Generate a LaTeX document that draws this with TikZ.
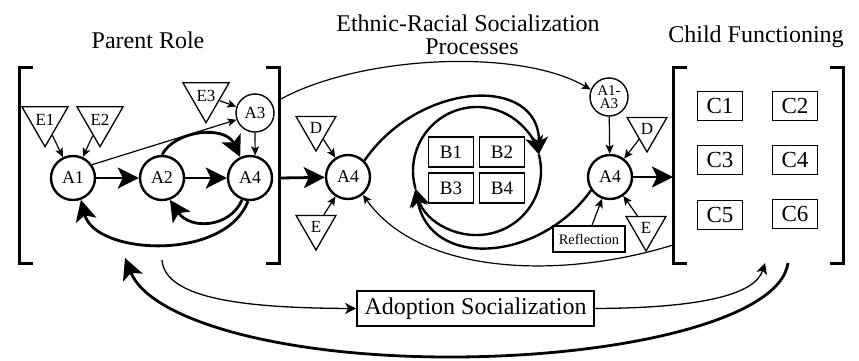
\documentclass[tikz,border=0pt]{standalone}
\usepackage{fontspec}
\setmainfont{Liberation Serif}
\usetikzlibrary{arrows.meta,shapes.geometric}
\begin{document}
\begin{tikzpicture}[x=1pt,y=-1pt,
  bigcirc/.style={circle, draw, line width=2.4pt, minimum size=44pt, inner sep=0pt, font=\fontsize{18}{18}\selectfont},
  smallcirc/.style={circle, draw, line width=1.4pt, minimum size=38pt, inner sep=0pt, font=\fontsize{17}{17}\selectfont},
  tri/.style={regular polygon, regular polygon sides=3, shape border rotate=180, draw, line width=1.3pt, minimum size=46pt, inner sep=0pt, font=\fontsize{17}{17}\selectfont},
  bbox/.style={draw, line width=1.8pt, minimum width=45pt, minimum height=30pt, inner sep=0pt, font=\fontsize{19}{19}\selectfont},
  cbox/.style={draw, line width=1.8pt, minimum width=45pt, minimum height=29pt, inner sep=0pt, font=\fontsize{23}{23}\selectfont},
  thinarr/.style={line width=1.2pt, -{Stealth[length=9pt,width=8pt,inset=2pt]}},
  medarr/.style={line width=1.3pt, -{Stealth[length=11pt,width=11pt,inset=3pt]}},
  bigarr/.style={line width=2.8pt, -{Stealth[length=21pt,width=21pt,inset=5pt]}},
  cycarr/.style={line width=2.4pt, -{Stealth[length=18pt,width=18pt,inset=5pt]}},
  bracket/.style={line width=3pt},
  title/.style={font=\fontsize{24}{21}\selectfont, anchor=base, inner sep=0pt}
]
\useasboundingbox (0,0) rectangle (859,360);

% titles
\node[title] (tPR) at (148,48) {Parent Role};
\node[title] (tER1) at (468,31) {Ethnic-Racial Socialization};
\node[title] (tER2) at (472,54) {Processes};
\node[title] (tCF) at (756,42) {Child Functioning};

% brackets
\draw[bracket] (33,67) -- (19,67) -- (19,263) -- (33,263);
\draw[bracket] (266,67) -- (279,67) -- (279,263) -- (266,263);
\draw[bracket] (687,67) -- (673,67) -- (673,263) -- (687,263);
\draw[bracket] (830,67) -- (843,67) -- (843,263) -- (830,263);

% parent role nodes
\node[bigcirc] (A1) at (73,178) {A1};
\node[bigcirc] (A2) at (162,178) {A2};
\node[bigcirc] (A4L) at (250,178) {A4};
\node[smallcirc] (A3) at (255,113) {A3};
\node[tri] (E1) at (45,120) {E1};
\node[tri] (E2) at (100,120) {E2};
\node[tri] (E3) at (206,96) {E3};

% middle nodes
\node[bigcirc] (A4M) at (348,177) {A4};
\node[tri] (D1) at (316,128) {D};
\node[tri] (E4) at (316,227) {E};
\node[bbox] (B1) at (451,152) {B1};
\node[bbox] (B2) at (502,152) {B2};
\node[bbox] (B3) at (451,188) {B3};
\node[bbox] (B4) at (502,188) {B4};

% right side of middle
\node[smallcirc, font=\fontsize{15}{13.5}\selectfont, align=center] (A13) at (609,97) {A1-\\A3};
\node[bigcirc] (A4R) at (610,177) {A4};
\node[tri] (D2) at (647,129) {D};
\node[tri] (E5) at (646,228) {E};
\node[draw, line width=1.3pt, minimum width=72pt, minimum height=26pt, inner sep=1pt, font=\fontsize{14.5}{14.5}\selectfont] (Refl) at (589,239) {Reflection};

% child functioning
\node[cbox] (C1) at (720,106) {C1};
\node[cbox] (C2) at (795,106) {C2};
\node[cbox] (C3) at (720,160) {C3};
\node[cbox] (C4) at (795,160) {C4};
\node[cbox] (C5) at (720,215) {C5};
\node[cbox] (C6) at (795,214) {C6};

% adoption
\node[draw, line width=1.8pt, minimum width=237pt, minimum height=35pt, inner sep=0pt, font=\fontsize{24}{24}\selectfont] (Adopt) at (475.5,308.5) {Adoption Socialization};

% coordinates
\coordinate (lbR) at (279,178);
\coordinate (lbTop) at (279,100);
\coordinate (rbL) at (673,177);
\coordinate (rbLow) at (673,245);
\coordinate (cR) at (538.8,154.4);
\coordinate (cL) at (415.5,188.6);
\coordinate (adL) at (162,260);
\coordinate (adR) at (765,263);
\coordinate (bigR) at (788,263);
\coordinate (bigL) at (125,258);

% thin arrows
\draw[thinarr] (E1) -- (A1);
\draw[thinarr] (E2) -- (A1);
\draw[thinarr] (E3) -- (A3);
\draw[thinarr] (A1.35) -- (A3.200);
\draw[thinarr] (A3.south) -- (A4L.77);
\draw[thinarr] (D1) -- (A4M);
\draw[thinarr] (E4) -- (A4M);
\draw[thinarr] (A13) -- (A4R);
\draw[thinarr] (D2) -- (A4R);
\draw[thinarr] (E5) -- (A4R);
\draw[thinarr] ([xshift=3pt]Refl.north) -- (A4R.250);
\draw[thinarr] (lbTop) .. controls (360,55) and (520,48) .. (A13.158);
\draw[thinarr] (rbLow) .. controls (560,280) and (420,275) .. (A4M.310);

% thick arrows
\draw[bigarr] (A1) -- (A2);
\draw[bigarr] (A2) -- (A4L);
\draw[bigarr] (lbR) -- (A4M);
\draw[bigarr] (A4R) -- (rbL);
\draw[bigarr] (A2.north) .. controls (175,130) and (225,125) .. (A4L.115);
\draw[bigarr] (A4L.250) .. controls (230,228) and (190,230) .. (A2.290);
\draw[bigarr] (A4L.265) .. controls (225,262) and (95,255) .. (A1.290);

% cycle around B
\draw[cycarr] (A4M.45) .. controls (420,80) and (540,75) .. (cR);
\draw[cycarr] (cL) arc[start angle=164, end angle=345, radius=64];
\draw[cycarr] (cR) arc[start angle=-15, end angle=164, radius=64];
\draw[cycarr] (A4R.215) .. controls (540,262) and (430,270) .. (cL);

% adoption arrows
\draw[medarr] (adL) .. controls (165,300) and (250,308) .. (Adopt.west);
\draw[medarr] (Adopt.east) .. controls (700,308) and (755,295) .. (adR);
\draw[bigarr] (bigR) .. controls (780,320) and (620,357) .. (450,357) .. controls (280,357) and (150,320) .. (bigL);
\end{tikzpicture}
\end{document}
